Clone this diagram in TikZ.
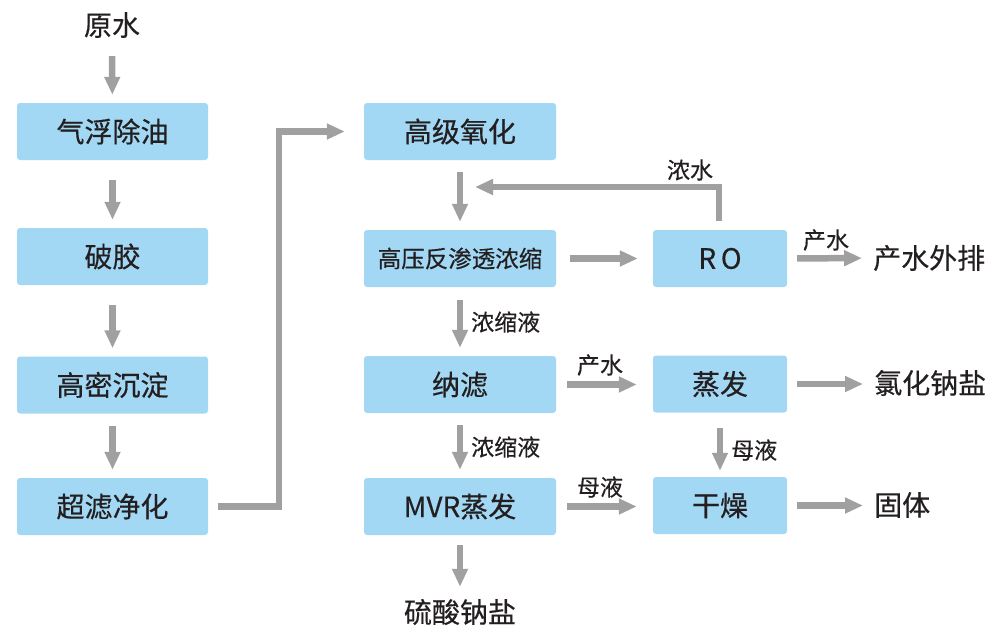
\documentclass[tikz,border=0pt]{standalone}
\usepackage{fontspec}
\setmainfont{Noto Sans CJK SC}[FakeBold=0.4]
\usetikzlibrary{arrows.meta}
\definecolor{boxblue}{HTML}{A3D8F5}
\definecolor{arrgray}{HTML}{A0A0A0}
\definecolor{txt}{HTML}{231F20}
\tikzset{
  proc/.style={fill=boxblue, rounded corners=3pt, minimum height=57pt, inner sep=0pt, text=txt, font=\fontsize{28}{30}\selectfont},
  procL/.style={proc, minimum width=191pt},
  procM/.style={proc, minimum width=192pt},
  procR/.style={proc, minimum width=134pt},
  plain/.style={text=txt, inner sep=0pt, font=\fontsize{28}{30}\selectfont},
  lab/.style={text=txt, inner sep=0pt, font=\fontsize{23}{25}\selectfont},
  arr/.style={draw=arrgray, line width=6.5pt, -{Triangle[length=18pt,width=15pt]}},
}
\begin{document}
\begin{tikzpicture}[x=1pt,y=-1pt]
\useasboundingbox (0,0) rectangle (1000,638);
% left column
\node[plain] (raw) at (112,25) {原水};
\node[procL] (q1) at (112.5,131.5) {气浮除油};
\node[procL] (q2) at (112.5,256.5) {破胶};
\node[procL] (q3) at (112.5,385) {高密沉淀};
\node[procL] (q4) at (112.5,506.5) {超滤净化};
% middle column
\node[procM] (m1) at (460,131.5) {高级氧化};
\node[procM, font=\fontsize{23.5}{25}\selectfont] (m2) at (460,258.5) {高压反渗透浓缩};
\node[procM] (m3) at (460,384.5) {纳滤};
\node[procM] (m4) at (460,506.5) {MVR蒸发};
\node[plain] (na2so4) at (460,612) {硫酸钠盐};
% right column
\node[procR] (ro) at (720,258.5) {R\,O};
\node[procR] (ev) at (720,384) {蒸发};
\node[procR] (dry) at (720,505.5) {干燥};
\node[plain, anchor=west] (out) at (873,258) {产水外排};
\node[plain, anchor=west] (nacl) at (874,383) {氯化钠盐};
\node[plain, anchor=west] (solid) at (874,505) {固体};
% coordinates
\coordinate (bend) at (279,131.5);
\coordinate (fbtop) at (719,187);
\coordinate (fbend) at (462,187);
% arrows left
\draw[arr, shorten <=18pt, shorten >=8pt] (raw) -- (q1);
\draw[arr, shorten <=20pt, shorten >=8pt] (q1) -- (q2);
\draw[arr, shorten <=20pt, shorten >=8pt] (q2) -- (q3);
\draw[arr, shorten <=12pt, shorten >=8pt] (q3) -- (q4);
\draw[arr, shorten <=10pt, shorten >=19pt] (q4.east) -| (bend) -- (m1.west);
% middle arrows
\draw[arr, shorten <=12pt, shorten >=8pt] (m1) -- (m2);
\draw[arr, shorten <=13pt, shorten >=8pt] (m2) -- (m3);
\draw[arr, shorten <=12pt, shorten >=8pt] (m3) -- (m4);
\draw[arr, shorten <=10pt, shorten >=12pt] (m4) -- (na2so4);
\node[lab, anchor=west] (l1) at (471,322) {浓缩液};
\node[lab, anchor=west] (l2) at (471,447) {浓缩液};
% horizontal
\draw[arr, shorten <=14pt, shorten >=15pt] (m2) -- (ro);
\draw[arr, shorten <=10pt, shorten >=11pt] (ro) -- (out);
\node[lab] (l3) at (826,240) {产水};
\draw[arr, shorten <=11pt, shorten >=16pt] (m3.east) -- (ev.west |- m3.east);
\node[lab] (l4) at (600,365) {产水};
\draw[arr, shorten <=10pt, shorten >=11pt] (ev.east) -- (nacl.west |- ev.east);
\draw[arr, shorten <=11pt, shorten >=16pt] (m4.east) -- (dry.west |- m4.east);
\node[lab] (l5) at (600,487) {母液};
\draw[arr, shorten <=10pt, shorten >=11pt] (dry.east) -- (solid.west |- dry.east);
\draw[arr, shorten <=15pt, shorten >=6pt] (ev) -- (dry);
\node[lab, anchor=west] (l6) at (731,450) {母液};
% feedback
\draw[arr, shorten <=9pt, shorten >=13pt] (ro.north -| fbtop) -- (fbtop) -- (fbend);
\node[lab] (l7) at (690,170) {浓水};
\end{tikzpicture}
\end{document}
